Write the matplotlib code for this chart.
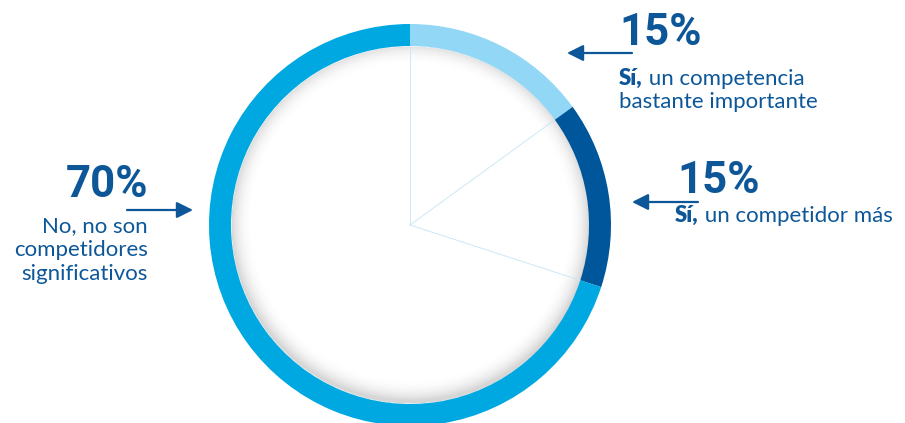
import numpy as np
from matplotlib import pyplot as plt

# share of answers, clockwise from 12 o'clock
values = [15, 15, 70]
bold_parts = ['Sí,', 'Sí,', '']
label_lines = [
    [' un competencia', 'bastante importante'],
    [' un competidor más'],
    ['No, no son', 'competidores', 'significativos'],
]
ring_colors = ['#92d7f6', '#00569a', '#00a8e1']

W, H = 905, 423
TEXT = '#0d5799'
NUM_FONT = ['Roboto']
LBL_FONT = ['Lato', 'DejaVu Sans']
LBL_SIZE = 16

fig = plt.figure(figsize=(W / 100, H / 100), dpi=100)
ax = fig.add_axes([0, 0, 1, 1])

cx, cy = 410, H - 225
r_out, ring_w = 201, 22
r_in = r_out - ring_w

# soft inner shadow along the inside of the ring
n = 500
xs = np.linspace(cx - r_in, cx + r_in, n)
ys = np.linspace(cy - r_in, cy + r_in, n)
X, Y = np.meshgrid(xs, ys)
R = np.hypot(X - cx, Y - (cy + 3))
shade = np.clip((R - (r_in - 22)) / 22, 0, 1) ** 2.2 * 0.36
shade[np.hypot(X - cx, Y - cy) > r_in] = 0
rgba = np.zeros((n, n, 4))
rgba[..., :3] = 0.55
rgba[..., 3] = shade
ax.imshow(rgba, extent=(xs[0], xs[-1], ys[0], ys[-1]), origin='lower',
          zorder=1, interpolation='bilinear')

wedges, _ = ax.pie(values, colors=ring_colors, startangle=90,
                   counterclock=False, radius=r_out, center=(cx, cy),
                   wedgeprops=dict(width=ring_w, linewidth=0))
for w in wedges:
    w.set_zorder(3)

# thin spokes at the segment boundaries
angle = 90.0
for v in values:
    a = np.deg2rad(angle)
    ax.plot([cx, cx + r_in * np.cos(a)], [cy, cy + r_in * np.sin(a)],
            color='#cde8f6', lw=0.7, zorder=2)
    angle -= v * 3.6

ax.set_xlim(0, W)
ax.set_ylim(0, H)
ax.set_aspect('equal')
ax.axis('off')

renderer = fig.canvas.get_renderer()


def arrow(tail, tip):
    ax.annotate('', xy=(tip[0], H - tip[1]), xytext=(tail[0], H - tail[1]),
                arrowprops=dict(arrowstyle='-|>,head_length=0.7,head_width=0.35',
                                mutation_scale=14, lw=1.6, color=TEXT,
                                shrinkA=0, shrinkB=0))


def label(x, baselines, bold, lines, ha='left'):
    for i, (yb, line) in enumerate(zip(baselines, lines)):
        xx = x
        if i == 0 and bold:
            t = ax.text(x, H - yb, bold, fontsize=LBL_SIZE, fontweight='heavy',
                        family=LBL_FONT, color=TEXT, va='baseline')
            bb = t.get_window_extent(renderer)
            xx = ax.transData.inverted().transform((bb.x1, bb.y0))[0]
        ax.text(xx, H - yb, line, fontsize=LBL_SIZE, family=LBL_FONT,
                color=TEXT, va='baseline', ha=ha)


# 15% - competencia bastante importante
ax.text(619, H - 45, f'{values[0]}%', fontsize=31.5, fontweight='bold',
        family=NUM_FONT, color=TEXT, va='baseline')
arrow((632, 53), (567, 53))
label(619, [85, 108], bold_parts[0], label_lines[0])

# 15% - competidor más
ax.text(677, H - 193, f'{values[1]}%', fontsize=31.5, fontweight='bold',
        family=NUM_FONT, color=TEXT, va='baseline')
arrow((698, 202), (632, 202))
label(675, [222], bold_parts[1], label_lines[1])

# 70% - no son competidores
ax.text(148, H - 197, f'{values[2]}%', fontsize=31.5, fontweight='bold',
        family=NUM_FONT, color=TEXT, va='baseline', ha='right')
arrow((127, 210), (193, 210))
label(148, [232, 256, 280], bold_parts[2], label_lines[2], ha='right')

fig.savefig('out.png', dpi=100)
